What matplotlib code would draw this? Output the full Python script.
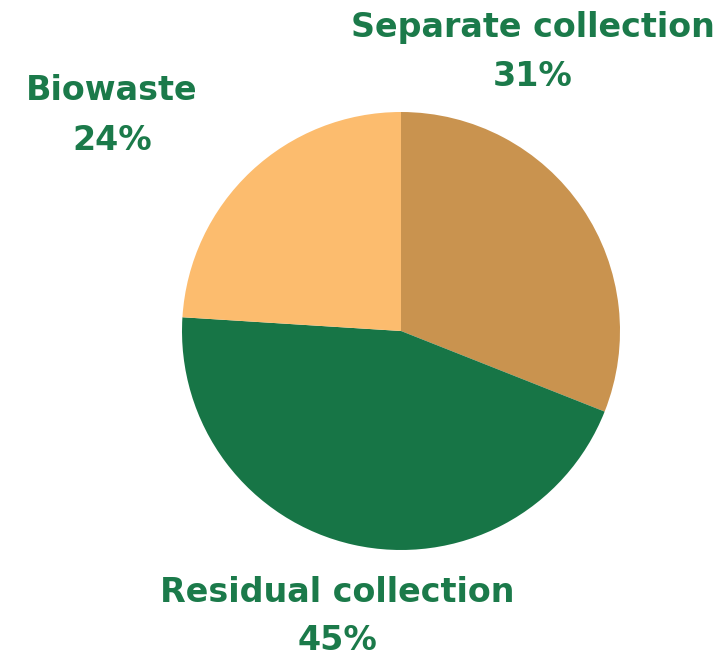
import matplotlib
matplotlib.use("Agg")
from matplotlib import pyplot as plt

# data
labels = ["Separate collection", "Residual collection", "Biowaste"]
shares = [31, 45, 24]
colors = ["#c9934f", "#177546", "#fcbc6e"]
text_color = "#1b7a4a"

W, H = 726, 655
fig = plt.figure(figsize=(W / 100, H / 100), dpi=100)

# pie axes placed in pixels: center (401, 331), radius 219
cx, cy, r = 401, 331, 219
ax = fig.add_axes([(cx - r) / W, (H - cy - r) / H, 2 * r / W, 2 * r / H])
ax.pie(shares, colors=colors, startangle=90, counterclock=False,
       radius=1, wedgeprops=dict(linewidth=0))
ax.set_xlim(-1, 1)
ax.set_ylim(-1, 1)
ax.axis("off")

# label positions (pixel coords of text centre)
label_pos = [(533, 27, 76), (337, 593, 640), (112, 90, 140)]
for name, val, (x, y1, y2) in zip(labels, shares, label_pos):
    fig.text(x / W, 1 - y1 / H, name, ha="center", va="center",
             fontsize=24, fontweight="bold", color=text_color,
             family="DejaVu Sans")
    fig.text(x / W, 1 - y2 / H, f"{val}%", ha="center", va="center",
             fontsize=24, fontweight="bold", color=text_color,
             family="DejaVu Sans")

fig.savefig("out.png", dpi=100)
